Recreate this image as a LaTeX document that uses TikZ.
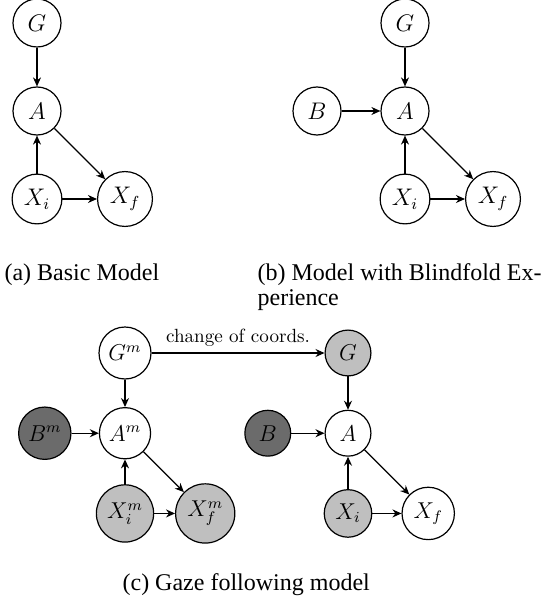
\documentclass[tikz,border=0pt]{standalone}
\usepackage{amsmath}
\usepackage{fontspec}
\newfontfamily\capfont{Liberation Serif}
\usetikzlibrary{arrows.meta, positioning}
\tikzstyle{var}=[draw,circle,fill=white,minimum size=24pt,inner sep=3pt,font=\fontsize{12}{14}\selectfont]
\tikzstyle{obs}=[var,fill=black!25]
\tikzstyle{blind}=[var,fill=black!58]
\tikzstyle{subcap}=[font=\capfont\fontsize{12}{12.5}\selectfont,inner sep=0pt,anchor=base west,align=left]

\begin{document}
\begin{tikzpicture}[auto,node distance=44pt,>={Stealth[length=4.5pt,width=4pt]},semithick]
    \useasboundingbox (0,0) rectangle (274.5pt,-304.5pt);

    % (a) basic model
    \node[var] (Ga) at (18.5pt,-11.5pt) {$G$};
    \node[var, below of=Ga] (Aa) {$A$};
    \node[var, below of=Aa] (Xia) {$X_i$};
    \node[var, right of=Xia] (Xfa) {$X_f$};
    \draw[->] (Ga) -- (Aa);
    \draw[->] (Xia) -- (Aa);
    \draw[->] (Aa) -- (Xfa);
    \draw[->] (Xia) -- (Xfa);
    \node[subcap] (capa) at (2pt,-140pt) {(a) Basic Model};

    % (b) blindfold experience
    \node[var] (Gb) at (202.5pt,-11.5pt) {$G$};
    \node[var, below of=Gb] (Ab) {$A$};
    \node[var, left of=Ab] (Bb) {$B$};
    \node[var, below of=Ab] (Xib) {$X_i$};
    \node[var, right of=Xib] (Xfb) {$X_f$};
    \draw[->] (Gb) -- (Ab);
    \draw[->] (Bb) -- (Ab);
    \draw[->] (Xib) -- (Ab);
    \draw[->] (Ab) -- (Xfb);
    \draw[->] (Xib) -- (Xfb);
    % base is the last line here
    \node[subcap] (capb) at (128.5pt,-152.5pt) {(b) Model with Blindfold Ex-\\perience};

    % (c) gaze following
    \begin{scope}[node distance=42pt, every node/.append style={scale=0.955}]
        \node[var] (Gm) at (62.5pt,-176.5pt) {$G^m$};
        \node[var, below of=Gm] (Am) {$A^m$};
        \node[blind, left of=Am] (Bm) {$B^m$};
        \node[obs, below of=Am] (Xim) {$X_i^m$};
        \node[obs, right of=Xim] (Xfm) {$X_f^m$};
        \draw[->] (Gm) -- (Am);
        \draw[->] (Bm) -- (Am);
        \draw[->] (Xim) -- (Am);
        \draw[->] (Am) -- (Xfm);
        \draw[->] (Xim) -- (Xfm);

        \node[obs] (Gc) at (174pt,-176.5pt) {$G$};
        \node[var, below of=Gc] (Ac) {$A$};
        \node[blind, left of=Ac] (Bc) {$B$};
        \node[obs, below of=Ac] (Xic) {$X_i$};
        \node[var, right of=Xic] (Xfc) {$X_f$};
        \draw[->] (Gc) -- (Ac);
        \draw[->] (Bc) -- (Ac);
        \draw[->] (Xic) -- (Ac);
        \draw[->] (Ac) -- (Xfc);
        \draw[->] (Xic) -- (Xfc);

        \draw[->] (Gm) -- node[above, font=\fontsize{10}{12}\selectfont] (coordlbl) {change of coords.} (Gc);
    \end{scope}
    \node[subcap] (capc) at (61pt,-295pt) {(c) Gaze following model};
\end{tikzpicture}
\end{document}
